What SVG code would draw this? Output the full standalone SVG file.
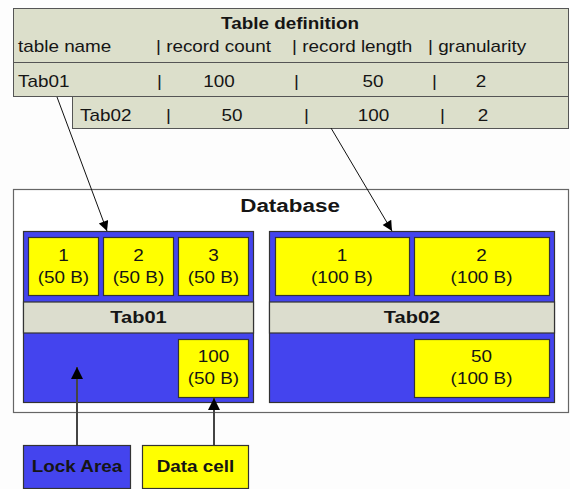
<svg xmlns="http://www.w3.org/2000/svg" width="570" height="489" viewBox="0 0 570 489">
  <style>
    text { font-family: "Liberation Sans", Arial, sans-serif; fill: #151515; transform: scaleX(1.18); }
    .r { font-size: 16px; }
    .b { font-size: 16px; font-weight: bold; }
    .bl { font-size: 19px; font-weight: bold; }
    .m { text-anchor: middle; }
    .def { fill: #DCDFCB; stroke: #555; stroke-width: 1; }
    .lock { fill: #4444EE; stroke: #333; stroke-width: 1.2; }
    .cell { fill: #FFFF00; stroke: #333; stroke-width: 1.2; }
    .band { fill: #DCDDCE; stroke: #333; stroke-width: 1.2; }
    .db { fill: #FFFFFF; stroke: #666; stroke-width: 1.2; }
    .conn { stroke: #111; stroke-width: 1; fill: none; }
    .stem { stroke: #444; stroke-width: 2; fill: none; }
  </style>
  <defs>
    <marker id="head" viewBox="0 0 10 10" refX="10" refY="5" markerWidth="13" markerHeight="10" markerUnits="userSpaceOnUse" orient="auto">
      <path d="M0,0 L10,5 L0,10 z" fill="#000"/>
    </marker>
    <marker id="headBig" viewBox="0 0 10 10" refX="10" refY="5" markerWidth="15" markerHeight="12" markerUnits="userSpaceOnUse" orient="auto">
      <path d="M0,0 L10,5 L0,10 z" fill="#000"/>
    </marker>
  </defs>
  <rect width="570" height="489" fill="#FDFDFD"/>

  <!-- Table definition -->
  <g id="tabledef">
    <rect class="def" x="13.5" y="8.5" width="555" height="54"/>
    <text class="b m" x="245.8" y="29">Table definition</text>
    <text class="r" x="15.25" y="52">table name</text>
    <text class="r" x="132.2" y="52">| record count</text>
    <text class="r" x="247.5" y="52">| record length</text>
    <text class="r" x="362.7" y="52">| granularity</text>
  </g>
  <g id="row-tab01">
    <rect class="def" x="13.5" y="62.5" width="555" height="34"/>
    <text class="r" x="15.25" y="87">Tab01</text>
    <text class="r" x="133.05" y="87">|</text>
    <text class="r m" x="185.6" y="87">100</text>
    <text class="r" x="249.2" y="87">|</text>
    <text class="r m" x="316.1" y="87">50</text>
    <text class="r" x="366.1" y="87">|</text>
    <text class="r m" x="407.6" y="87">2</text>
  </g>
  <g id="row-tab02">
    <rect class="def" x="72.5" y="96.5" width="496" height="32"/>
    <text class="r" x="67.8" y="121">Tab02</text>
    <text class="r" x="140.7" y="121">|</text>
    <text class="r m" x="196.6" y="121">50</text>
    <text class="r" x="257.6" y="121">|</text>
    <text class="r m" x="316.5" y="121">100</text>
    <text class="r" x="372.9" y="121">|</text>
    <text class="r m" x="409.3" y="121">2</text>
  </g>

  <!-- Database container -->
  <g id="database">
    <rect class="db" x="13.5" y="189.5" width="555" height="223"/>
    <text class="bl m" x="245.8" y="212">Database</text>
  </g>

  <!-- Tab01 storage -->
  <g id="store-tab01">
    <rect class="lock" x="23.5" y="231.5" width="230" height="171"/>
    <rect class="band" x="23.5" y="302" width="230" height="31"/>
    <text class="b m" x="117.4" y="323.5" style="font-size:17px">Tab01</text>
    <rect class="cell" x="28.5" y="237.5" width="70" height="58"/>
    <text class="r m" x="53.8" y="261">1</text>
    <text class="r m" x="53.8" y="283">(50 B)</text>
    <rect class="cell" x="103.5" y="237.5" width="70" height="58"/>
    <text class="r m" x="117.4" y="261">2</text>
    <text class="r m" x="117.4" y="283">(50 B)</text>
    <rect class="cell" x="178.5" y="237.5" width="70" height="58"/>
    <text class="r m" x="180.9" y="261">3</text>
    <text class="r m" x="180.9" y="283">(50 B)</text>
    <rect class="cell" x="178.5" y="339.5" width="70" height="58"/>
    <text class="r m" x="180.9" y="362">100</text>
    <text class="r m" x="180.9" y="384">(50 B)</text>
  </g>

  <!-- Tab02 storage -->
  <g id="store-tab02">
    <rect class="lock" x="269.5" y="231.5" width="285" height="171"/>
    <rect class="band" x="269.5" y="302" width="285" height="31"/>
    <text class="b m" x="349.2" y="323.5" style="font-size:17px">Tab02</text>
    <rect class="cell" x="275.5" y="237.5" width="134" height="58"/>
    <text class="r m" x="289.8" y="261">1</text>
    <text class="r m" x="289.8" y="283">(100 B)</text>
    <rect class="cell" x="414.5" y="237.5" width="135" height="58"/>
    <text class="r m" x="408.1" y="261">2</text>
    <text class="r m" x="408.1" y="283">(100 B)</text>
    <rect class="cell" x="414.5" y="339.5" width="135" height="58"/>
    <text class="r m" x="408.1" y="362">50</text>
    <text class="r m" x="408.1" y="384">(100 B)</text>
  </g>

  <!-- Legend -->
  <g id="legend-lock">
    <rect class="lock" x="23.5" y="445.5" width="107" height="43"/>
    <text class="b m" x="65.3" y="472">Lock Area</text>
  </g>
  <g id="legend-data">
    <rect class="cell" x="142.5" y="445.5" width="106" height="43"/>
    <text class="b m" x="165.7" y="472">Data cell</text>
  </g>

  <!-- Connectors -->
  <g id="connectors">
    <line class="conn" x1="57" y1="97" x2="107" y2="231" marker-end="url(#head)"/>
    <line class="conn" x1="331" y1="128" x2="392" y2="231" marker-end="url(#head)"/>
    <line class="stem" x1="77" y1="445" x2="77" y2="367" marker-end="url(#headBig)"/>
    <line class="stem" x1="214" y1="445" x2="214" y2="398" marker-end="url(#headBig)"/>
  </g>
</svg>
